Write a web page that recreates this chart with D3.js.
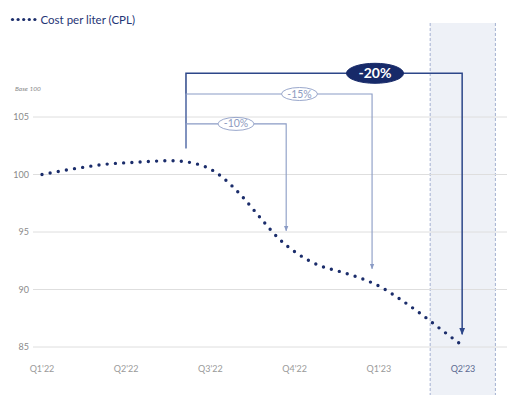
<!DOCTYPE html>
<html>
  <head>
    <meta charset="utf-8">
    <script type="text/javascript" src="https://cdn.jsdelivr.net/npm/d3@7/dist/d3.min.js"></script>
    <style media="screen">
    body{
      margin:0;
      background-color:#fff;
    }
    text{
      font-family:Lato, "Open Sans", sans-serif;
    }
    </style>
    <title>CPL</title>
  </head>
  <body>
    <div id="graph"></div>

    <script type="text/javascript">

    // quarter labels, position index 0..5
    var quarters=["Q1'22","Q2'22","Q3'22","Q4'22","Q1'23","Q2'23"];
    var yTicks=[85,90,95,100,105];

    // cost per liter, base 100 (position in quarters, value)
    var cplT=[0,0.38,0.77,1.15,1.54,1.82,2.0,2.16,2.37,2.62,2.81,3.04,3.29,3.57,3.84,4.02,4.26,4.5,4.73,4.96];
    var cplV=[100,100.5,100.9,101.08,101.2,100.95,100.47,99.65,98.15,96.0,94.44,93.09,92.1,91.49,90.83,90.23,89.12,87.88,86.58,85.3];

    // reduction brackets
    var dropLabels=['-10%','-15%','-20%'];
    var dropEndT=[2.9,3.92,4.99];
    var dropTopV=[104.4,107.0,108.8];
    var dropArrowV=[95.1,91.8,86.1];
    var bracketStartT=1.71;

    var width=514,height=395;
    var svg=d3.select('#graph').append('svg')
      .attr('width',width).attr('height',height);

    var x=d3.scaleLinear().domain([0,5]).range([42,463]);
    var y=d3.scaleLinear().domain([85,105]).range([347,117]);

    // highlighted band for last quarter
    var bandL=x(4.61),bandR=x(5.385);
    svg.append('rect').attr('x',bandL).attr('y',23)
      .attr('width',bandR-bandL).attr('height',height-23)
      .attr('fill','#eef1f7');
    [bandL,bandR].forEach(function(bx){
      svg.append('line').attr('x1',bx).attr('x2',bx).attr('y1',23).attr('y2',height)
        .attr('stroke','#8fa0c6').attr('stroke-width',0.8).attr('stroke-dasharray','3 2');
    });

    // gridlines
    svg.selectAll('.grid').data(yTicks).enter().append('line')
      .attr('class','grid')
      .attr('x1',33).attr('x2',507)
      .attr('y1',function(d){return y(d);}).attr('y2',function(d){return y(d);})
      .attr('stroke','#dedede').attr('stroke-width',1);

    svg.selectAll('.ytick').data(yTicks).enter().append('text')
      .attr('class','ytick')
      .attr('x',29).attr('y',function(d){return y(d)+3;})
      .attr('text-anchor','end').attr('font-size',9).attr('fill','#8a8a8a')
      .text(function(d){return d;});

    svg.append('text').attr('x',15).attr('y',91)
      .attr('font-size',6.5).attr('font-style','italic').attr('fill','#8a8a8a')
      .text('Base 100');

    svg.selectAll('.xtick').data(quarters).enter().append('text')
      .attr('class','xtick')
      .attr('x',function(d,i){return x(i);}).attr('y',372)
      .attr('text-anchor','middle').attr('font-size',9)
      .attr('fill',function(d,i){return i==5?'#5d6b92':'#9a9a9a';})
      .text(function(d){return d;});

    // dotted CPL line
    var line=d3.line()
      .x(function(d){return x(d[0]);})
      .y(function(d){return y(d[1]);})
      .curve(d3.curveMonotoneX);
    var pts=cplT.map(function(t,i){return [t,cplV[i]];});
    svg.append('path').datum(pts).attr('d',line)
      .attr('fill','none').attr('stroke','#1b2d6b')
      .attr('stroke-width',3.4).attr('stroke-linecap','round')
      .attr('stroke-dasharray','0 8.25');

    // arrowheads
    var defs=svg.append('defs');
    [['arrLight','#8a9bc5'],['arrDark','#2d4789']].forEach(function(a){
      defs.append('marker').attr('id',a[0])
        .attr('viewBox','0 0 10 10').attr('refX',9).attr('refY',5)
        .attr('markerWidth',5).attr('markerHeight',5).attr('orient','auto')
        .append('path').attr('d','M0,1L10,5L0,9Z').attr('fill',a[1]);
    });

    // brackets, biggest first so it sits underneath
    for(var k=dropLabels.length-1;k>=0;k--){
      var dark=k==2;
      var col=dark?'#2d4789':'#8a9bc5';
      var x0=x(bracketStartT),x1=x(dropEndT[k]);
      var yt=y(dropTopV[k]),yb=y(dropArrowV[k]);
      svg.append('path')
        .attr('d','M'+x0+','+y(102.28)+'V'+yt+'H'+x1+'V'+yb)
        .attr('fill','none').attr('stroke',col)
        .attr('stroke-width',dark?1.5:1.1)
        .attr('marker-end','url(#'+(dark?'arrDark':'arrLight')+')');
    }

    var pillX=[236,299.5,375];
    dropLabels.forEach(function(lab,k){
      var dark=k==2;
      var cy=y(dropTopV[k]);
      svg.append('ellipse').attr('cx',pillX[k]).attr('cy',cy)
        .attr('rx',dark?28.5:18).attr('ry',dark?10:6.5)
        .attr('fill',dark?'#172a69':'#fff')
        .attr('stroke',dark?'#172a69':'#9aa8cc').attr('stroke-width',1);
      svg.append('text').attr('x',pillX[k]).attr('y',cy+(dark?4.8:3.5))
        .attr('text-anchor','middle')
        .attr('font-size',dark?14:10.5)
        .attr('font-weight',dark?'bold':'normal')
        .attr('fill',dark?'#fff':'#8d9bc0')
        .text(lab);
    });

    // legend
    var legendDots=[0,1,2,3,4];
    svg.selectAll('.ldot').data(legendDots).enter().append('circle')
      .attr('class','ldot')
      .attr('cx',function(d){return 12.5+d*5.6;}).attr('cy',19.5)
      .attr('r',1.6).attr('fill','#1b2d6b');
    svg.append('text').attr('x',40.5).attr('y',23.5)
      .attr('font-size',11.5).attr('fill','#1f3575')
      .text('Cost per liter (CPL)');

    </script>
  </body>
</html>
